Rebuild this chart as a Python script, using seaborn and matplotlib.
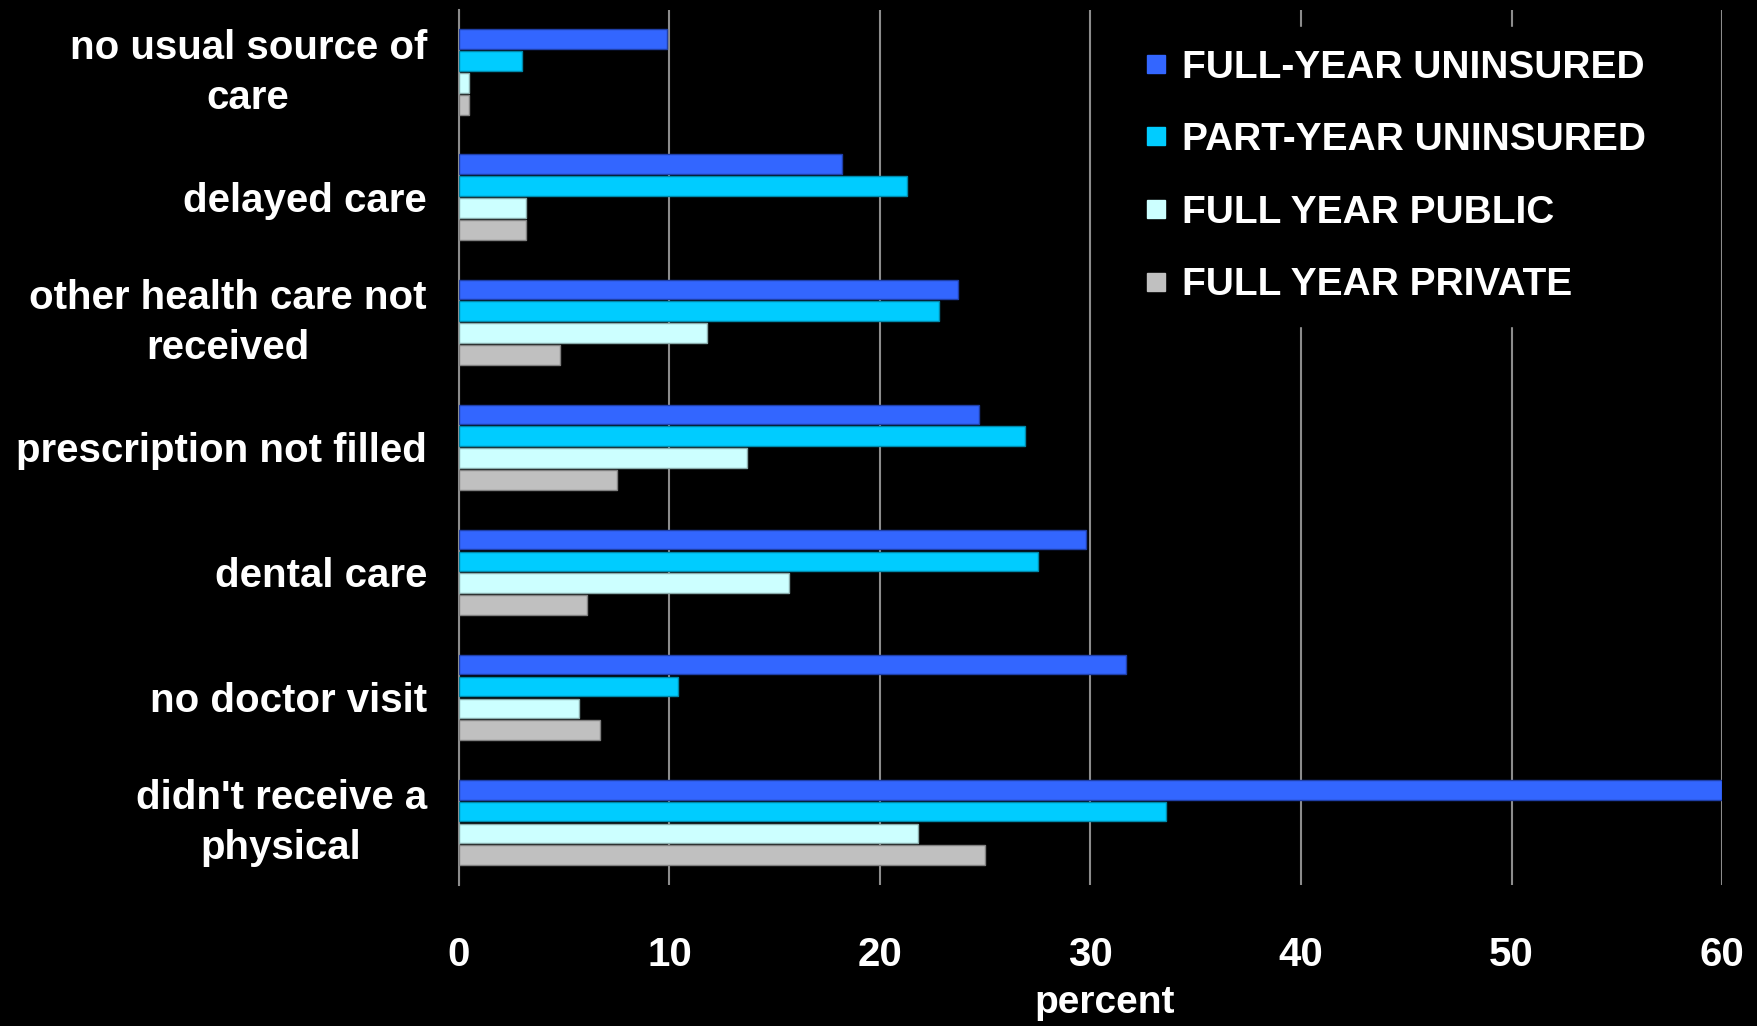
import matplotlib
matplotlib.use("Agg")
import matplotlib.pyplot as plt
import matplotlib.transforms as mtransforms
import seaborn as sns
import pandas as pd
from matplotlib.lines import Line2D

# Barriers to care, by insurance status (percent)
categories = [
    "no usual source of\ncare",
    "delayed care",
    "other health care not\nreceived",
    "prescription not filled",
    "dental care",
    "no doctor visit",
    "didn't receive a\nphysical",
]
groups = ["FULL-YEAR UNINSURED", "PART-YEAR UNINSURED", "FULL YEAR PUBLIC", "FULL YEAR PRIVATE"]
full_year_uninsured = [9.9, 18.2, 23.7, 24.7, 29.8, 31.7, 60.0]
part_year_uninsured = [3.0, 21.3, 22.8, 26.9, 27.5, 10.4, 33.6]
full_year_public = [0.5, 3.2, 11.8, 13.7, 15.7, 5.7, 21.8]
full_year_private = [0.5, 3.2, 4.8, 7.5, 6.1, 6.7, 25.0]
xticks = [0, 10, 20, 30, 40, 50, 60]

colors = ["#3366FF", "#00CCFF", "#CCFFFF", "#C0C0C0"]
edge_colors = ["#1f3fa8", "#0088aa", "#88aaaa", "#808080"]

series = [full_year_uninsured, part_year_uninsured, full_year_public, full_year_private]
rows = []
for g, vals in zip(groups, series):
    for c, v in zip(categories, vals):
        rows.append({"category": c, "group": g, "value": v})
df = pd.DataFrame(rows)

sns.set_style("dark")
plt.rcParams["font.family"] = ["Liberation Sans", "DejaVu Sans"]
plt.rcParams["font.weight"] = "bold"

fig = plt.figure(figsize=(17.58, 10.26), dpi=100, facecolor="black")
ax = fig.add_axes([0.261, 0.1374, 0.7186, 0.8533])
ax.set_facecolor("black")

sns.barplot(
    data=df, x="value", y="category", hue="group",
    order=categories, hue_order=groups, palette=colors,
    width=0.7, gap=0.1, orient="h", saturation=1,
    errorbar=None, legend=False, linewidth=1, ax=ax,
)

# darker outline per series
n = len(categories)
for i, patch in enumerate(ax.patches[: n * len(groups)]):
    patch.set_edgecolor(edge_colors[i // n])

ax.set_xlim(0, 60)
ax.set_xticks(xticks)
ax.set_xticklabels([str(t) for t in xticks], fontsize=29, fontweight="bold", color="white")
ax.set_axisbelow(True)
ax.grid(axis="x", color="#8c8c8c", linewidth=1.5)
ax.grid(axis="y", visible=False)
ax.tick_params(axis="x", length=3, width=1.5, color="#8c8c8c", pad=34)
ax.tick_params(axis="y", length=0, pad=23)

# two-line category labels sit a little above their group centre
lift = mtransforms.ScaledTranslation(0, 6.5 / 72, fig.dpi_scale_trans)
for tick in ax.yaxis.get_major_ticks():
    lbl = tick.label1
    lbl.set_fontsize(29)
    lbl.set_fontweight("bold")
    lbl.set_color("white")
    lbl.set_multialignment("center")
    lbl.set_linespacing(1.4)
    if "\n" in lbl.get_text():
        lbl.set_transform(lbl.get_transform() + lift)

for side in ["top", "right", "bottom"]:
    ax.spines[side].set_visible(False)
ax.spines["left"].set_color("#8c8c8c")
ax.spines["left"].set_linewidth(1.5)
ax.spines["left"].set_zorder(0.5)

ax.set_ylabel("")
ax.set_xlabel("percent", fontsize=28, fontweight="bold", color="white")
ax.xaxis.set_label_coords(0.5116, -0.1462)
ax.xaxis.label.set_va("baseline")

handles = [
    Line2D([], [], linestyle="none", marker="s", markersize=13,
           markerfacecolor=c, markeredgecolor=c)
    for c in colors
]
leg = fig.legend(
    handles, groups, loc="upper left", bbox_to_anchor=(0.6391, 0.9737),
    borderaxespad=0, frameon=True, facecolor="black", edgecolor="black",
    framealpha=1, fontsize=28, handlelength=0.5, handletextpad=0.42,
    labelspacing=0.94, borderpad=0.58,
)
for t in leg.get_texts():
    t.set_color("white")
    t.set_fontweight("bold")

fig.savefig("out.png", dpi=100, facecolor="black")
